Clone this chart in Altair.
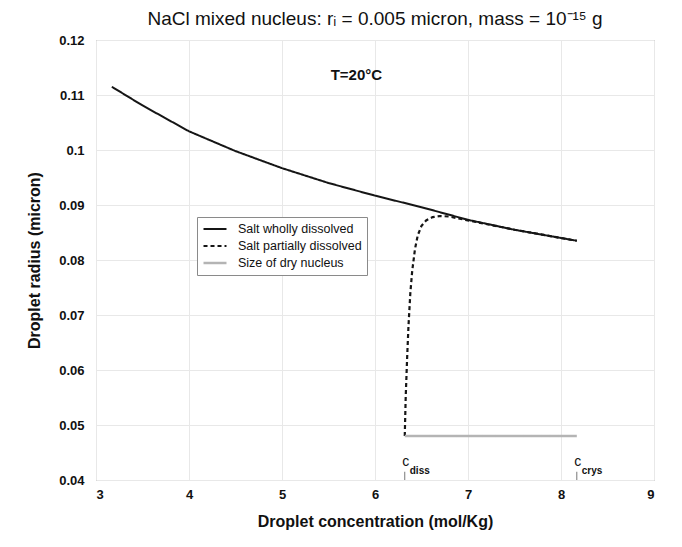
import altair as alt
import pandas as pd

# --- data ---
wholly_x = [3.17, 3.5, 4.0, 4.5, 5.0, 5.5, 6.0, 6.5, 7.0, 7.5, 8.0, 8.17]
wholly_y = [0.1115, 0.1081, 0.1034, 0.0998, 0.0967, 0.0940, 0.0917, 0.0896, 0.0873, 0.0855, 0.0840, 0.0835]

partial_x = [6.32, 6.33, 6.345, 6.36, 6.38, 6.40, 6.43, 6.46, 6.50, 6.55, 6.62, 6.70, 6.80, 7.0, 7.5, 8.0, 8.17]
partial_y = [0.048, 0.055, 0.062, 0.068, 0.074, 0.078, 0.082, 0.0845, 0.0862, 0.0872, 0.0878, 0.0880, 0.0879, 0.0872, 0.0855, 0.0840, 0.0835]

dry_x = [6.32, 8.17]
dry_y = [0.048, 0.048]

series_names = ["Salt wholly dissolved", "Salt partially dissolved", "Size of dry nucleus"]

marker_x = [6.32, 8.17]
marker_main = ["c", "c"]
marker_sub = ["diss", "crys"]

rows = []
for name, xs, ys in zip(series_names, [wholly_x, partial_x, dry_x], [wholly_y, partial_y, dry_y]):
    for i, (x, y) in enumerate(zip(xs, ys)):
        rows.append({"series": name, "c": x, "r": y, "ord": i})
df = pd.DataFrame(rows)

mk = pd.DataFrame({"c": marker_x, "main": marker_main, "sub": marker_sub,
                   "y0": [0.04] * 2, "y1": [0.0415] * 2, "ym": [0.0433] * 2, "ys": [0.0416] * 2})

xs = alt.Scale(domain=[3, 9], nice=False, zero=False)
ysc = alt.Scale(domain=[0.04, 0.12], nice=False, zero=False)

lines = alt.Chart(df).mark_line(strokeCap="butt").encode(
    x=alt.X("c:Q", scale=xs, title="Droplet concentration (mol/Kg)",
            axis=alt.Axis(values=[3, 4, 5, 6, 7, 8, 9], format="d")),
    y=alt.Y("r:Q", scale=ysc, title="Droplet radius (micron)",
            axis=alt.Axis(values=[0.04, 0.05, 0.06, 0.07, 0.08, 0.09, 0.1, 0.11, 0.12],
                          labelExpr="datum.value == 0.1 ? '0.1' : format(datum.value, '.2f')")),
    order="ord:Q",
    color=alt.Color("series:N", title=None,
                    scale=alt.Scale(domain=series_names, range=["#151515", "#151515", "#b4b4b4"]),
                    legend=alt.Legend(orient="none", legendX=101, legendY=177,
                                      symbolType="M-2,0H2",
                                      strokeColor="#8a8a8a", fillColor="white", padding=5,
                                      labelFontSize=12.5, labelFont="Liberation Sans", labelColor="#111",
                                      symbolSize=132, rowPadding=3, labelLimit=300, labelOffset=16,
                                      symbolOffset=6)),
    strokeDash=alt.StrokeDash("series:N", title=None,
                              scale=alt.Scale(domain=series_names, range=[[1, 0], [4, 3], [1, 0]])),
    strokeWidth=alt.StrokeWidth("series:N", title=None,
                                scale=alt.Scale(domain=series_names, range=[2.0, 2.4, 1.3])),
)

ticks = alt.Chart(mk).mark_rule(color="#777", strokeWidth=1).encode(
    x="c:Q", y="y0:Q", y2="y1:Q")
main_txt = alt.Chart(mk).mark_text(font="Liberation Sans", fontSize=14, color="#111",
                                   baseline="middle", align="center", dx=1).encode(
    x="c:Q", y="ym:Q", text="main:N")
sub_txt = alt.Chart(mk).mark_text(font="Liberation Sans", fontSize=10, color="#111", fontWeight="bold",
                                  baseline="middle", align="left", dx=5).encode(
    x="c:Q", y="ys:Q", text="sub:N")

temp = alt.Chart(pd.DataFrame({"c": [5.8], "r": [0.1136], "t": ["T=20°C"]})).mark_text(
    font="Liberation Sans", fontSize=15, fontWeight="bold", color="#111").encode(
    x="c:Q", y="r:Q", text="t:N")

chart = alt.layer(lines, ticks, main_txt, sub_txt, temp).properties(
    width=558, height=440,
    title=alt.TitleParams("NaCl mixed nucleus: rᵢ  = 0.005 micron, mass = 10⁻¹⁵ g",
                          font="Liberation Sans", fontSize=19, fontWeight="normal",
                          color="#111", anchor="middle", offset=5),
    autosize=alt.AutoSizeParams(type="none"),
    padding={"left": 88, "top": 32, "right": 20, "bottom": 50},
).configure_view(stroke="#8c8c8c", strokeWidth=1).configure_axis(
    grid=True, gridColor="#e8e8e8", gridWidth=1, domain=False, ticks=False,
    labelFont="Liberation Sans", labelFontSize=13, labelFontWeight="bold", labelColor="#111",
    titleFont="Liberation Sans", titleFontSize=16, titleFontWeight="bold", titleColor="#111",
).configure_axisX(labelPadding=8, titlePadding=12).configure_axisY(labelPadding=12, titlePadding=16)

chart.save("out.html", embed_options={"renderer": "svg", "actions": False})
